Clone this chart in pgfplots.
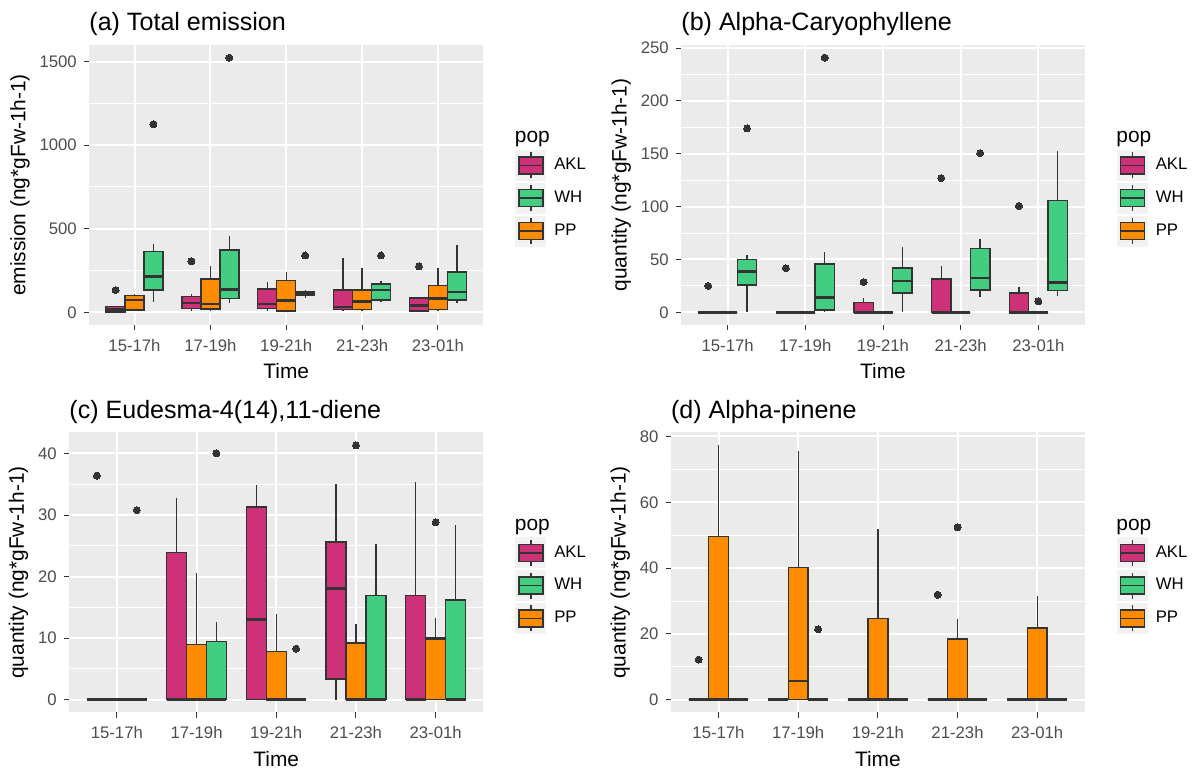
\documentclass[border=0pt]{standalone}
\usepackage{fontspec}
\setmainfont{Liberation Sans}
\usepackage{pgfplots}
\pgfplotsset{compat=1.18}
\usepgfplotslibrary{statistics}
\definecolor{ggbg}{HTML}{EBEBEB}
\definecolor{gg333}{HTML}{333333}
\definecolor{gray30}{HTML}{4D4D4D}
\definecolor{keybg}{HTML}{F2F2F2}
\definecolor{akl}{HTML}{CD3278}
\definecolor{wh}{HTML}{43CD80}
\definecolor{pp}{HTML}{FF8C00}
\pgfplotsset{
  ggaxis/.style={
    scale only axis, anchor=north west, height=140pt, clip=false,
    xmin=0.4, xmax=5.6,
    xtick={1,2,3,4,5},
    xticklabels={15-17h,17-19h,19-21h,21-23h,23-01h},
    axis background/.style={fill=ggbg},
    axis line style={draw=none},
    tick align=outside, tick pos=left,
    major tick length=2.6pt, minor tick length=0pt,
    tick style={draw=gg333, line width=0.5pt},
    xmajorgrids, ymajorgrids, yminorgrids,
    major grid style={white, line width=1pt},
    minor grid style={white, line width=0.5pt},
    ticklabel style={font=\fontsize{8.36}{10}\selectfont, text=gray30},
    xticklabel style={yshift=-1pt},
    /pgf/number format/assume math mode=true,
    /pgf/number format/1000 sep={},
    scaled y ticks=false,
    label style={font=\fontsize{10.45}{12}\selectfont},
    ylabel style={inner sep=0pt, yshift=1.4pt},
    xlabel style={inner sep=0pt, yshift=-2.5pt},
    xlabel={Time},
    title style={at={(rel axis cs:0,1)}, anchor=base west, inner sep=0pt, yshift=1pt, font=\fontsize{12.54}{15}\selectfont},
    legend style={at={(1,0.5)}, anchor=north west, xshift=16pt, yshift=17.5pt,
      draw=none, fill=none, inner sep=0pt, outer sep=0pt, row sep=1pt,
      font=\fontsize{8.36}{10}\selectfont,
      /tikz/every odd column/.append style={column sep=2pt}},
    legend cell align=left,
  },
  ggbox/.style={
    boxplot/draw direction=y,
    boxplot/box extend=0.25,
    boxplot/whisker extend=0,
    boxplot/every box/.style={draw=gg333, line width=0.7pt, fill=#1},
    boxplot/every whisker/.style={draw=gg333, line width=0.65pt},
    boxplot/every median/.style={draw=gg333, line width=1.3pt},
    draw=gg333, solid,
    mark=*, mark size=1.75pt, mark options={fill=gg333, draw=gg333, line width=0pt},
    forget plot,
  },
  ggkey/.style={legend image code/.code={%
    \fill[keybg] (0pt,-7.5pt) rectangle (15pt,7.5pt);
    \draw[gg333, line width=0.65pt] (7.5pt,-6.5pt) -- (7.5pt,6.5pt);
    \filldraw[fill=#1, draw=gg333, line width=0.7pt] (1.5pt,-4.25pt) rectangle (13.5pt,4.25pt);
    \draw[gg333, line width=0.7pt] (1.5pt,0pt) -- (13.5pt,0pt);
  }},
}
\newcommand{\gb}[7]{\addplot[ggbox=#1, boxplot prepared={draw position=#2, lower whisker=#3, lower quartile=#4, median=#5, upper quartile=#6, upper whisker=#7}]}
\newcommand{\ggleg}{%
  \addlegendimage{ggkey=akl}\addlegendentry{AKL}
  \addlegendimage{ggkey=wh}\addlegendentry{WH}
  \addlegendimage{ggkey=pp}\addlegendentry{PP}
  \node[anchor=base west, inner sep=0pt, font=\fontsize{10.45}{12}\selectfont, xshift=15.5pt, yshift=21pt] at (axis description cs:1,0.5) {pop};
}
\begin{document}
\begin{tikzpicture}
\path[use as bounding box] (0,0) rectangle (600pt,385.5pt);
% (a)
\begin{axis}[ggaxis, at={(44.5pt,363pt)}, width=197.25pt,
  ymin=-76, ymax=1600, ytick={0,500,1000,1500}, minor ytick={250,750,1250},
  ylabel={emission (ng*gFw-1h-1)}, title={(a) Total emission}]
\ggleg
\gb{akl}{0.75}{0}{1}{15}{34}{36} coordinates {(0,133)};
\gb{pp}{1}{5}{14}{74}{101}{111} coordinates {};
\gb{wh}{1.25}{64}{133}{215}{364}{408} coordinates {(0,1126)};
\gb{akl}{1.75}{6}{24}{56}{93}{111} coordinates {(0,306)};
\gb{pp}{2}{10}{20}{50}{199}{278} coordinates {};
\gb{wh}{2.25}{56}{84}{137}{374}{458} coordinates {(0,1524)};
\gb{akl}{2.75}{6}{24}{50}{139}{183} coordinates {};
\gb{pp}{3}{2}{8}{70}{189}{243} coordinates {};
\gb{wh}{3.25}{86}{99}{113}{123}{133} coordinates {(0,340)};
\gb{akl}{3.75}{10}{16}{32}{133}{328} coordinates {};
\gb{pp}{4}{6}{16}{64}{133}{263} coordinates {};
\gb{wh}{4.25}{62}{74}{133}{169}{187} coordinates {(0,340)};
\gb{akl}{4.75}{4}{8}{42}{86}{93} coordinates {(0,275)};
\gb{pp}{5}{10}{16}{82}{159}{263} coordinates {};
\gb{wh}{5.25}{56}{74}{121}{241}{400} coordinates {};
\end{axis}
% (b)
\begin{axis}[ggaxis, at={(340.5pt,363pt)}, width=202pt,
  ymin=-12.05, ymax=253, ytick={0,50,100,150,200,250}, minor ytick={25,75,125,175,225},
  ylabel={quantity (ng*gFw-1h-1)}, title={(b) Alpha-Caryophyllene}]
\ggleg
\gb{akl}{0.75}{0}{0}{0}{0}{0} coordinates {(0,25)};
\gb{pp}{1}{0}{0}{0}{0}{0} coordinates {};
\gb{wh}{1.25}{0}{25.8}{38.7}{49.7}{54} coordinates {(0,174)};
\gb{akl}{1.75}{0}{0}{0}{0}{0} coordinates {(0,41.8)};
\gb{pp}{2}{0}{0}{0}{0}{0} coordinates {};
\gb{wh}{2.25}{0.6}{2.2}{13.8}{45.6}{56.6} coordinates {(0,241)};
\gb{akl}{2.75}{0}{0}{0}{9.1}{13.5} coordinates {(0,28.6)};
\gb{pp}{3}{0}{0}{0}{0}{0} coordinates {};
\gb{wh}{3.25}{0}{18.2}{29.6}{42}{62} coordinates {};
\gb{akl}{3.75}{0}{0}{0}{31.4}{43.7} coordinates {(0,127)};
\gb{pp}{4}{0}{0}{0}{0}{0} coordinates {};
\gb{wh}{4.25}{14}{21}{32.4}{60.4}{69} coordinates {(0,150.6)};
\gb{akl}{4.75}{0}{0}{0}{18.2}{24} coordinates {(0,100.6)};
\gb{pp}{5}{0}{0}{0}{0}{0} coordinates {(0,10.4)};
\gb{wh}{5.25}{15}{20.4}{28}{106}{152.5} coordinates {};
\end{axis}
% (c)
\begin{axis}[ggaxis, at={(34.5pt,169.25pt)}, width=207.25pt,
  ymin=-2.07, ymax=43.4, ytick={0,10,20,30,40}, minor ytick={5,15,25,35},
  ylabel={quantity (ng*gFw-1h-1)}, title={(c) Eudesma-4(14),11-diene}]
\ggleg
\gb{akl}{0.75}{0}{0}{0}{0}{0} coordinates {(0,36.4)};
\gb{pp}{1}{0}{0}{0}{0}{0} coordinates {};
\gb{wh}{1.25}{0}{0}{0}{0}{0} coordinates {(0,30.8)};
\gb{akl}{1.75}{0}{0}{0}{23.9}{32.7} coordinates {};
\gb{pp}{2}{0}{0}{0}{9.0}{20.6} coordinates {};
\gb{wh}{2.25}{0}{0}{0}{9.45}{12.7} coordinates {(0,40.0)};
\gb{akl}{2.75}{0}{0}{13.0}{31.3}{34.8} coordinates {};
\gb{pp}{3}{0}{0}{0}{7.8}{14.0} coordinates {};
\gb{wh}{3.25}{0}{0}{0}{0}{0} coordinates {(0,8.3)};
\gb{akl}{3.75}{0}{3.35}{18.1}{25.6}{35.1} coordinates {};
\gb{pp}{4}{0}{0}{0}{9.2}{12.25} coordinates {(0,41.3)};
\gb{wh}{4.25}{0}{0}{0}{16.9}{25.3} coordinates {};
\gb{akl}{4.75}{0}{0}{0}{16.9}{35.4} coordinates {};
\gb{pp}{5}{0}{0}{9.9}{9.9}{13.2} coordinates {(0,28.8)};
\gb{wh}{5.25}{0}{0}{0}{16.2}{28.4} coordinates {};
\end{axis}
% (d)
\begin{axis}[ggaxis, at={(335.35pt,169.25pt)}, width=207.15pt,
  ymin=-3.87, ymax=81.2, ytick={0,20,40,60,80}, minor ytick={10,30,50,70},
  ylabel={quantity (ng*gFw-1h-1)}, title={(d) Alpha-pinene}]
\ggleg
\gb{akl}{0.75}{0}{0}{0}{0}{0} coordinates {(0,12.2)};
\gb{pp}{1}{0}{0}{0}{49.6}{77.3} coordinates {};
\gb{wh}{1.25}{0}{0}{0}{0}{0} coordinates {};
\gb{akl}{1.75}{0}{0}{0}{0}{0} coordinates {};
\gb{pp}{2}{0}{0}{5.7}{40.2}{75.5} coordinates {};
\gb{wh}{2.25}{0}{0}{0}{0}{0} coordinates {(0,21.4)};
\gb{akl}{2.75}{0}{0}{0}{0}{0} coordinates {};
\gb{pp}{3}{0}{0}{0}{24.7}{51.8} coordinates {};
\gb{wh}{3.25}{0}{0}{0}{0}{0} coordinates {};
\gb{akl}{3.75}{0}{0}{0}{0}{0} coordinates {(0,31.9)};
\gb{pp}{4}{0}{0}{0}{18.5}{24.4} coordinates {(0,52.4)};
\gb{wh}{4.25}{0}{0}{0}{0}{0} coordinates {};
\gb{akl}{4.75}{0}{0}{0}{0}{0} coordinates {};
\gb{pp}{5}{0}{0}{0}{21.8}{31.6} coordinates {};
\gb{wh}{5.25}{0}{0}{0}{0}{0} coordinates {};
\end{axis}
\end{tikzpicture}
\end{document}
